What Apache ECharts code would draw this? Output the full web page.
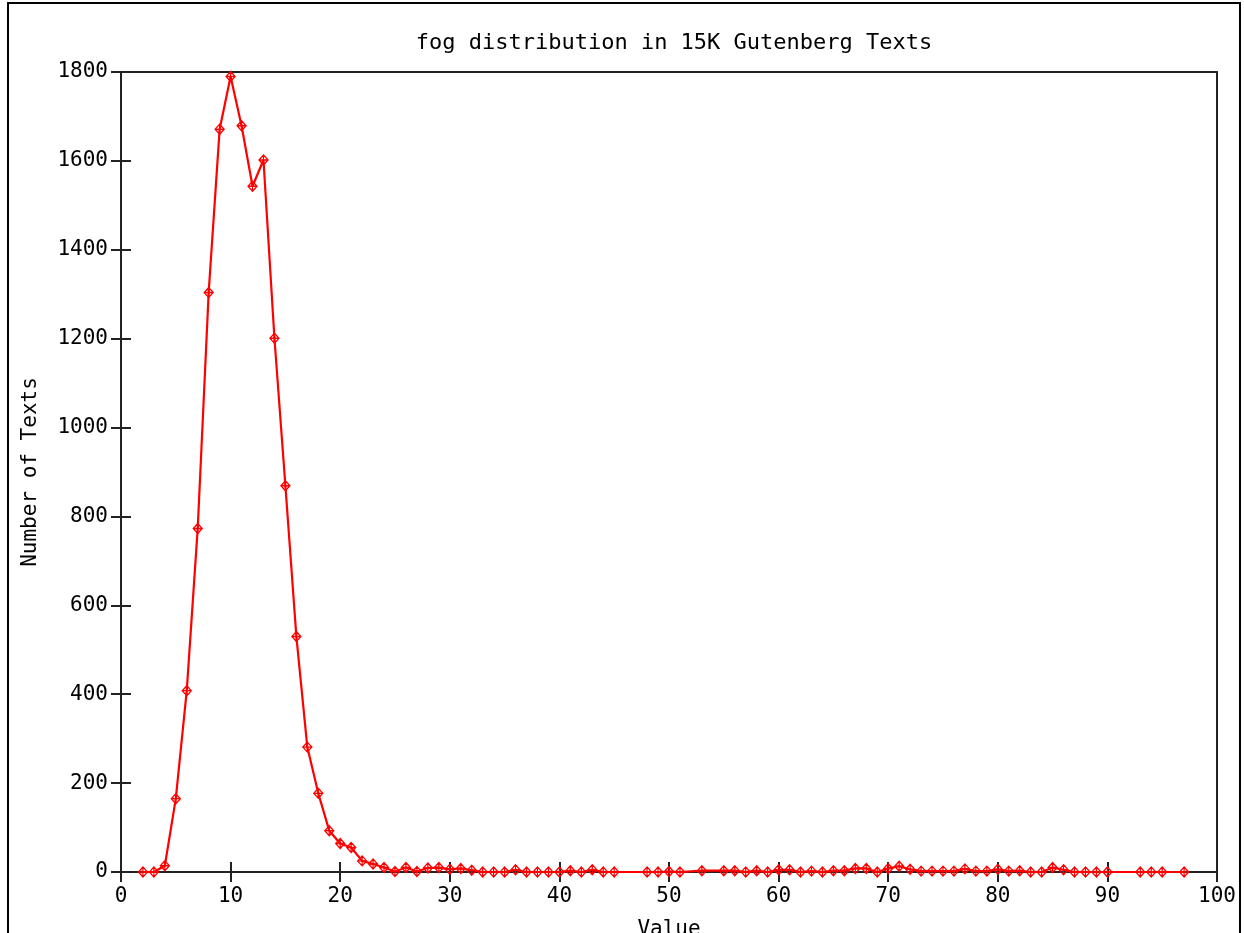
<!DOCTYPE html>
<html>
<head>
<meta charset="utf-8">
<script src="https://cdn.jsdelivr.net/npm/echarts@6/dist/echarts.min.js"></script>
<style>
html,body{margin:0;padding:0;background:#fff;}
#chart{width:1244px;height:933px;}
</style>
</head>
<body>
<div id="chart"></div>
<script>
var titleText = 'fog distribution in 15K Gutenberg Texts';
var xName = 'Value';
var yName = 'Number of Texts';
var fogValues = [2,3,4,5,6,7,8,9,10,11,12,13,14,15,16,17,18,19,20,21,22,23,24,25,26,27,28,29,30,31,32,33,34,35,36,37,38,39,40,41,42,43,44,45,48,49,50,51,53,55,56,57,58,59,60,61,62,63,64,65,66,67,68,69,70,71,72,73,74,75,76,77,78,79,80,81,82,83,84,85,86,87,88,89,90,93,94,95,97];
var textCounts = [0,0,14,165,408,773,1304,1671,1790,1679,1543,1602,1201,869,530,281,177,93,64,55,25,18,10,1,10,1,9,10,6,8,4,0,0,0,5,0,0,0,0,3,0,5,0,0,0,0,1,0,3,3,3,0,3,0,5,5,0,2,0,3,3,8,8,0,8,13,6,2,2,2,2,7,2,2,6,2,3,0,0,10,5,0,0,0,0,0,0,0,0];
var xTicks = {min: 0, max: 100, interval: 10};
var yTicks = {min: 0, max: 1800, interval: 200};

var pairs = fogValues.map(function (v, i) { return [v, textCounts[i]]; });
var font = 'DejaVu Sans Mono';
var labelStyle = {color: '#000', fontFamily: font, fontSize: 21};
var lineStyle = {color: '#222', width: 2};
var plain = function (v) { return String(v); };

var chart = echarts.init(document.getElementById('chart'), null, {renderer: 'canvas'});
chart.setOption({
  animation: false,
  backgroundColor: '#fff',
  title: {
    text: titleText, left: 669, top: 27, textAlign: 'center',
    textStyle: {fontFamily: font, fontSize: 22, fontWeight: 'normal', color: '#000'}
  },
  grid: {left: 121, right: 27, top: 72, bottom: 61, outerBoundsMode: 'none', containLabel: false,
    show: true, borderColor: '#222', borderWidth: 2, backgroundColor: 'transparent'},
  xAxis: [{
    type: 'value', min: xTicks.min, max: xTicks.max, interval: xTicks.interval,
    name: xName, nameLocation: 'middle', nameGap: 47,
    nameTextStyle: labelStyle,
    axisLine: {show: true, lineStyle: lineStyle},
    axisTick: {show: true, inside: true, length: 10, lineStyle: lineStyle},
    axisLabel: Object.assign({margin: 14, formatter: plain}, labelStyle),
    splitLine: {show: false}
  }, {
    type: 'value', position: 'top', min: xTicks.min, max: xTicks.max, interval: xTicks.interval,
    axisLine: {show: false},
    axisTick: {show: true, inside: true, length: 10, lineStyle: lineStyle},
    axisLabel: {show: false},
    splitLine: {show: false}
  }],
  yAxis: [{
    type: 'value', min: yTicks.min, max: yTicks.max, interval: yTicks.interval,
    name: yName, nameLocation: 'middle', nameGap: 80, nameRotate: 90,
    nameTextStyle: labelStyle,
    axisLine: {show: true, lineStyle: lineStyle},
    axisTick: {show: true, inside: true, length: 10, lineStyle: lineStyle},
    axisLabel: Object.assign({margin: 13, formatter: plain}, labelStyle),
    splitLine: {show: false}
  }, {
    type: 'value', position: 'right', min: yTicks.min, max: yTicks.max, interval: yTicks.interval,
    axisLine: {show: false},
    axisTick: {show: true, inside: true, length: 10, lineStyle: lineStyle},
    axisLabel: {show: false},
    splitLine: {show: false}
  }],
  graphic: [{
    type: 'rect', silent: true,
    shape: {x: 8, y: 3, width: 1232, height: 950},
    style: {fill: 'none', stroke: '#000', lineWidth: 2}
  }],
  series: [{
    type: 'line',
    data: pairs,
    xAxisIndex: 0, yAxisIndex: 0,
    symbol: 'path://M0,-5L4,0L0,5L-4,0ZM0,-5L0,5M-4,0L4,0',
    symbolSize: [9, 10],
    showAllSymbol: true,
    itemStyle: {color: 'rgba(0,0,0,0)', borderColor: '#ff0000', borderWidth: 1.3},
    lineStyle: {color: '#ff0000', width: 2.2},
    z: 5
  }]
});
</script>
</body>
</html>
